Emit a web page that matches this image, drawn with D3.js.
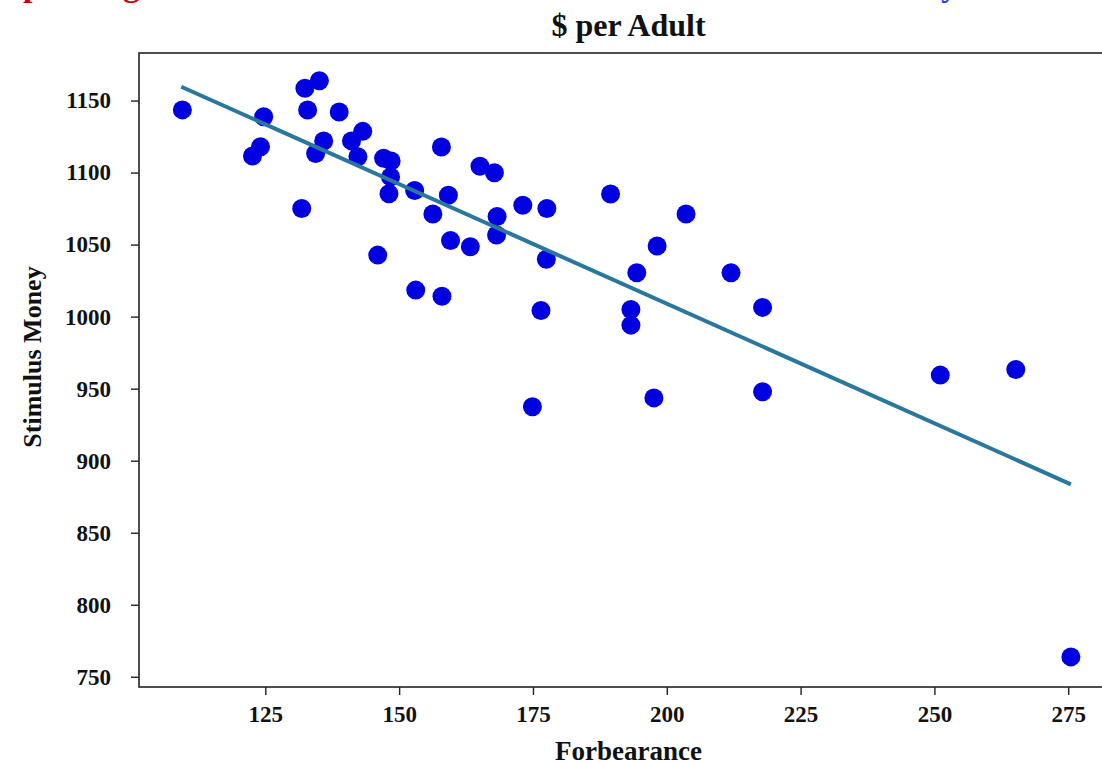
<!DOCTYPE html>
<html>
<head>
<meta charset="utf-8">
<script src="https://cdn.jsdelivr.net/npm/d3@7"></script>
<style>
  html, body { margin: 0; padding: 0; background: #ffffff; }
  svg { display: block; }
  text { font-family: "Liberation Serif", "Times New Roman", serif; font-weight: bold; fill: #111; }
</style>
</head>
<body>
<svg id="chart" width="1102" height="765"></svg>
<script>
// ---- data ----
const forbearance = [109.5, 122.6, 124.1, 124.7, 131.8, 132.4, 132.9, 134.4, 135.1, 135.9,
  138.8, 141.1, 142.3, 143.2, 146.0, 147.1, 148.5, 148.4, 148.1, 152.9,
  153.1, 156.3, 157.9, 158.0, 159.2, 159.6, 163.3, 165.1, 167.8, 168.3,
  168.2, 173.1, 174.9, 176.5, 177.5, 177.6, 189.5, 193.3, 193.3, 194.4,
  197.6, 198.2, 203.6, 212.0, 217.9, 217.9, 251.1, 265.2, 275.5];
const stimulus = [1143.5, 1111.5, 1117.9, 1138.8, 1075.1, 1158.5, 1143.4, 1113.3, 1163.8, 1121.9,
  1142.0, 1122.0, 1111.0, 1128.6, 1042.7, 1110.0, 1108.0, 1097.0, 1085.3, 1087.6,
  1018.4, 1071.2, 1117.7, 1014.2, 1084.2, 1052.8, 1048.5, 1104.4, 1099.9, 1069.5,
  1056.6, 1077.3, 937.4, 1004.3, 1039.8, 1075.1, 1085.1, 1005.0, 994.1, 1030.4,
  943.6, 1049.0, 1071.2, 1030.4, 1006.4, 947.8, 959.4, 963.3, 763.8];
const fitX = [109.3, 275.5];
const fitY = [1159.6, 883.6];
const xTicks = [125, 150, 175, 200, 225, 250, 275];
const yTicks = [750, 800, 850, 900, 950, 1000, 1050, 1100, 1150];
const titleText = "$ per Adult";
const xLabel = "Forbearance";
const yLabel = "Stimulus Money";
const headerRed = "Spending";
const headerBlue = "by";

// ---- layout ----
const svg = d3.select("#chart");
const pL = 139, pR = 1118, pT = 53, pB = 687;
const x = d3.scaleLinear().domain([101.4, 284.3]).range([pL, pR]);
const y = d3.scaleLinear().domain([742.9, 1183]).range([pB, pT]);

// cropped header line above the figure (only descenders visible)
svg.append("text").attr("x", 4).attr("y", -4)
  .style("font-size", "34px").style("fill", "#cc0000").text(headerRed);
svg.append("text").attr("x", 922).attr("y", -4)
  .style("font-size", "34px").style("fill", "#1f3fff").text(headerBlue);

// points
svg.append("g").selectAll("circle")
  .data(forbearance.map((d, i) => [d, stimulus[i]]))
  .join("circle")
  .attr("cx", d => x(d[0]))
  .attr("cy", d => y(d[1]))
  .attr("r", 9.5)
  .attr("fill", "#0000e0");

// fit line
svg.append("path")
  .datum(fitX.map((d, i) => [d, fitY[i]]))
  .attr("d", d3.line().x(d => x(d[0])).y(d => y(d[1])))
  .attr("fill", "none")
  .attr("stroke", "#2a779e")
  .attr("stroke-width", 4);

// frame
svg.append("rect")
  .attr("x", pL).attr("y", pT)
  .attr("width", pR - pL).attr("height", pB - pT)
  .attr("fill", "none").attr("stroke", "#222").attr("stroke-width", 1.6);

// axes
const xAxis = svg.append("g").attr("transform", `translate(0,${pB})`)
  .call(d3.axisBottom(x).tickValues(xTicks).tickSize(8).tickPadding(11).tickFormat(d3.format("d")));
const yAxis = svg.append("g").attr("transform", `translate(${pL},0)`)
  .call(d3.axisLeft(y).tickValues(yTicks).tickSize(8).tickPadding(20).tickFormat(d3.format("d")));
[xAxis, yAxis].forEach(g => {
  g.select(".domain").remove();
  g.selectAll(".tick line").attr("stroke", "#222").attr("stroke-width", 1.4);
  g.selectAll(".tick text")
    .style("font-family", '"Liberation Serif", "Times New Roman", serif')
    .style("font-weight", "bold").style("font-size", "23px").attr("fill", "#111");
});

// labels
svg.append("text").attr("x", (pL + pR) / 2).attr("y", 36)
  .attr("text-anchor", "middle").style("font-size", "32px").text(titleText);
svg.append("text").attr("x", (pL + pR) / 2).attr("y", 760)
  .attr("text-anchor", "middle").style("font-size", "27px").text(xLabel);
svg.append("text")
  .attr("transform", `translate(41,357) rotate(-90)`)
  .attr("text-anchor", "middle").style("font-size", "26px").text(yLabel);
</script>
</body>
</html>
